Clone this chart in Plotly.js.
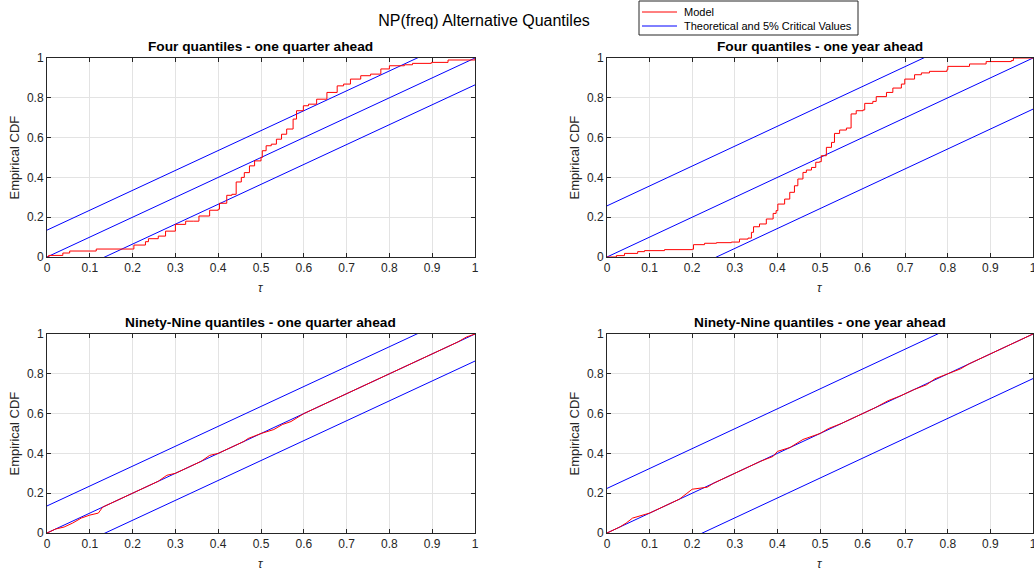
<!DOCTYPE html>
<html><head><meta charset="utf-8">
<script src="https://cdn.plot.ly/plotly-3.0.1.min.js"></script>
<style>html,body{margin:0;padding:0;background:#fff}#chart{width:1034px;height:573px}</style>
</head><body><div id="chart"></div>
<script>
// ---- data ----
const panelTitles = ["Four quantiles - one quarter ahead","Four quantiles - one year ahead","Ninety-Nine quantiles - one quarter ahead","Ninety-Nine quantiles - one year ahead"];
const legendNames = ["Model", "Theoretical and 5% Critical Values"];
const critVals = [0.135, 0.257, 0.136, 0.224];
const xTicks = [0,0.1,0.2,0.3,0.4,0.5,0.6,0.7,0.8,0.9,1];
const xTickText = ["0","0.1","0.2","0.3","0.4","0.5","0.6","0.7","0.8","0.9","1"];
const yTicks = [0,0.2,0.4,0.6,0.8,1];
const yTickText = ["0","0.2","0.4","0.6","0.8","1"];

const tauTL = [0,0.004,0.037,0.053,0.1,0.115,0.2,0.203,0.23,0.237,0.26,0.277,0.3,0.324,0.343,0.355,0.38,0.4,0.403,0.42,0.432,0.442,0.454,0.461,0.473,0.485,0.5,0.503,0.512,0.524,0.536,0.548,0.56,0.575,0.583,0.599,0.611,0.63,0.654,0.678,0.693,0.709,0.733,0.756,0.78,0.8,0.835,0.854,0.898,0.937,1];
const cdfTL = [0,0.008,0.02,0.03,0.03,0.04,0.04,0.06,0.077,0.092,0.105,0.13,0.164,0.18,0.18,0.206,0.235,0.24,0.27,0.31,0.315,0.377,0.4,0.424,0.458,0.483,0.5,0.534,0.559,0.567,0.592,0.617,0.643,0.693,0.735,0.76,0.768,0.793,0.827,0.86,0.869,0.894,0.911,0.919,0.945,0.961,0.966,0.973,0.978,0.99,1];

const tauTR = [0,0.022,0.041,0.072,0.088,0.135,0.2,0.203,0.229,0.257,0.292,0.311,0.331,0.339,0.344,0.358,0.374,0.39,0.397,0.401,0.417,0.429,0.44,0.448,0.46,0.468,0.48,0.49,0.499,0.503,0.515,0.527,0.534,0.546,0.562,0.573,0.585,0.601,0.605,0.624,0.632,0.656,0.671,0.691,0.699,0.722,0.738,0.757,0.798,0.8,0.851,0.89,0.949,0.954,1];
const cdfTR = [0,0.007,0.018,0.027,0.032,0.037,0.039,0.062,0.069,0.072,0.075,0.09,0.095,0.124,0.152,0.166,0.191,0.219,0.233,0.266,0.291,0.325,0.358,0.392,0.425,0.437,0.45,0.476,0.479,0.509,0.551,0.576,0.621,0.638,0.648,0.719,0.735,0.739,0.772,0.782,0.806,0.827,0.849,0.869,0.894,0.916,0.925,0.933,0.941,0.958,0.97,0.982,0.987,1,1];

const tauBL = [0,0.01,0.02,0.04,0.06,0.08,0.1,0.12,0.13,0.15,0.17,0.2,0.22,0.24,0.26,0.28,0.3,0.33,0.36,0.38,0.4,0.43,0.46,0.47,0.5,0.53,0.55,0.57,0.6,0.63,0.66,0.7,0.73,0.76,0.8,0.83,0.86,0.9,0.93,0.96,0.98,1];
const cdfBL = [0,0.008,0.02,0.03,0.05,0.075,0.09,0.1,0.13,0.15,0.17,0.2,0.22,0.24,0.26,0.29,0.3,0.33,0.36,0.39,0.4,0.43,0.46,0.475,0.5,0.52,0.545,0.56,0.6,0.63,0.66,0.7,0.73,0.76,0.8,0.83,0.86,0.9,0.93,0.96,0.985,1];

const tauBR = [0,0.01,0.03,0.045,0.06,0.1,0.12,0.14,0.17,0.2,0.235,0.25,0.28,0.3,0.33,0.36,0.39,0.4,0.43,0.46,0.5,0.52,0.55,0.58,0.6,0.63,0.66,0.69,0.72,0.75,0.77,0.8,0.83,0.85,0.88,0.9,0.93,0.96,0.98,1];
const cdfBR = [0,0.01,0.03,0.05,0.075,0.1,0.12,0.14,0.17,0.22,0.23,0.25,0.28,0.3,0.33,0.36,0.385,0.41,0.43,0.47,0.5,0.525,0.55,0.58,0.6,0.63,0.665,0.69,0.72,0.745,0.775,0.8,0.825,0.85,0.88,0.9,0.93,0.96,0.98,1];

const seriesTau = [tauTL, tauTR, tauBL, tauBR];
const seriesCdf = [cdfTL, cdfTR, cdfBL, cdfBR];
const seriesShape = ['hv', 'hv', 'linear', 'linear'];

// ---- layout geometry ----
const W = 1034, H = 573;
const px = v => v / W, py = v => 1 - v / H;
const xDoms = [[px(47), px(475)],[px(607), px(1033)],[px(47), px(475)],[px(607), px(1033)]];
const yDoms = [[py(257), py(58)],[py(257), py(58)],[py(533), py(334)],[py(533), py(334)]];

const traces = [];
const layout = {
  width: W, height: H,
  margin: {l:0, r:0, t:0, b:0},
  paper_bgcolor: '#fff', plot_bgcolor: '#fff',
  font: {family: 'Liberation Sans, Arial, sans-serif', color: '#262626'},
  title: {text: 'NP(freq) Alternative Quantiles', x: px(484), xanchor: 'center', y: py(20), yanchor: 'middle', font: {size: 16, color: '#000'}},
  showlegend: false,
  annotations: [],
  shapes: []
};

for (let i = 0; i < 4; i++) {
  const ax = i === 0 ? '' : String(i+1);
  const xa = 'x' + ax, ya = 'y' + ax;
  const c = critVals[i];
  [0, c, -c].forEach((off) => {
    traces.push({x: [0, 1], y: [off, 1+off], xaxis: xa, yaxis: ya, mode: 'lines', type: 'scatter',
      line: {color: '#0000ff', width: 1}, name: legendNames[1], hoverinfo: 'skip'});
  });
  traces.push({x: seriesTau[i], y: seriesCdf[i], xaxis: xa, yaxis: ya, mode: 'lines', type: 'scatter',
    line: {color: '#ff0000', width: 1, shape: seriesShape[i]}, name: legendNames[0]});

  const common = {showline: true, mirror: 'ticks', linecolor: '#262626', linewidth: 1, ticks: 'inside', ticklen: 4,
    tickcolor: '#262626', showgrid: true, gridcolor: '#e3e3e3', gridwidth: 1, zeroline: false,
    tickfont: {size: 12, color: '#262626'}, fixedrange: true, ticklabeloverflow: 'allow'};
  layout['xaxis' + ax] = Object.assign({}, common, {domain: xDoms[i], range: [0, 1], anchor: ya,
    tickmode: 'array', tickvals: xTicks, ticktext: xTickText});
  layout['yaxis' + ax] = Object.assign({}, common, {domain: yDoms[i], range: [0, 1], anchor: xa,
    tickmode: 'array', tickvals: yTicks, ticktext: yTickText});

  const cx = (xDoms[i][0] + xDoms[i][1]) / 2;
  layout.annotations.push({text: '<b>' + panelTitles[i] + '</b>', xref: 'paper', yref: 'paper', x: cx, y: yDoms[i][1] + 2/H,
    xanchor: 'center', yanchor: 'bottom', showarrow: false, font: {size: 13.7, color: '#000'}});
  layout.annotations.push({text: '<i>τ</i>', xref: 'paper', yref: 'paper', x: cx, y: yDoms[i][0] - 31/H,
    xanchor: 'center', yanchor: 'middle', showarrow: false, font: {size: 12, color: '#262626'}});
  layout.annotations.push({text: 'Empirical CDF', xref: 'paper', yref: 'paper', x: xDoms[i][0] - 33/W, y: (yDoms[i][0] + yDoms[i][1]) / 2,
    xanchor: 'center', yanchor: 'middle', textangle: -90, showarrow: false, font: {size: 13, color: '#262626'}});
}

// ---- legend box (drawn as figure annotations) ----
layout.shapes.push({type: 'rect', xref: 'paper', yref: 'paper', x0: px(639), x1: px(858), y0: py(35), y1: py(1),
  line: {color: '#262626', width: 1}, fillcolor: '#fff', layer: 'above'});
const legColors = ['#ff0000', '#0000ff'];
const legRows = [12, 26];
for (let k = 0; k < 2; k++) {
  layout.shapes.push({type: 'line', xref: 'paper', yref: 'paper', x0: px(642), x1: px(677), y0: py(legRows[k]), y1: py(legRows[k]),
    line: {color: legColors[k], width: 1}, layer: 'above'});
  layout.annotations.push({text: legendNames[k], xref: 'paper', yref: 'paper', x: px(682), y: py(legRows[k]),
    xanchor: 'left', yanchor: 'middle', showarrow: false, font: {size: 11, color: '#000'}});
}

Plotly.newPlot('chart', traces, layout, {displayModeBar: false, staticPlot: true});
</script>
</body></html>
